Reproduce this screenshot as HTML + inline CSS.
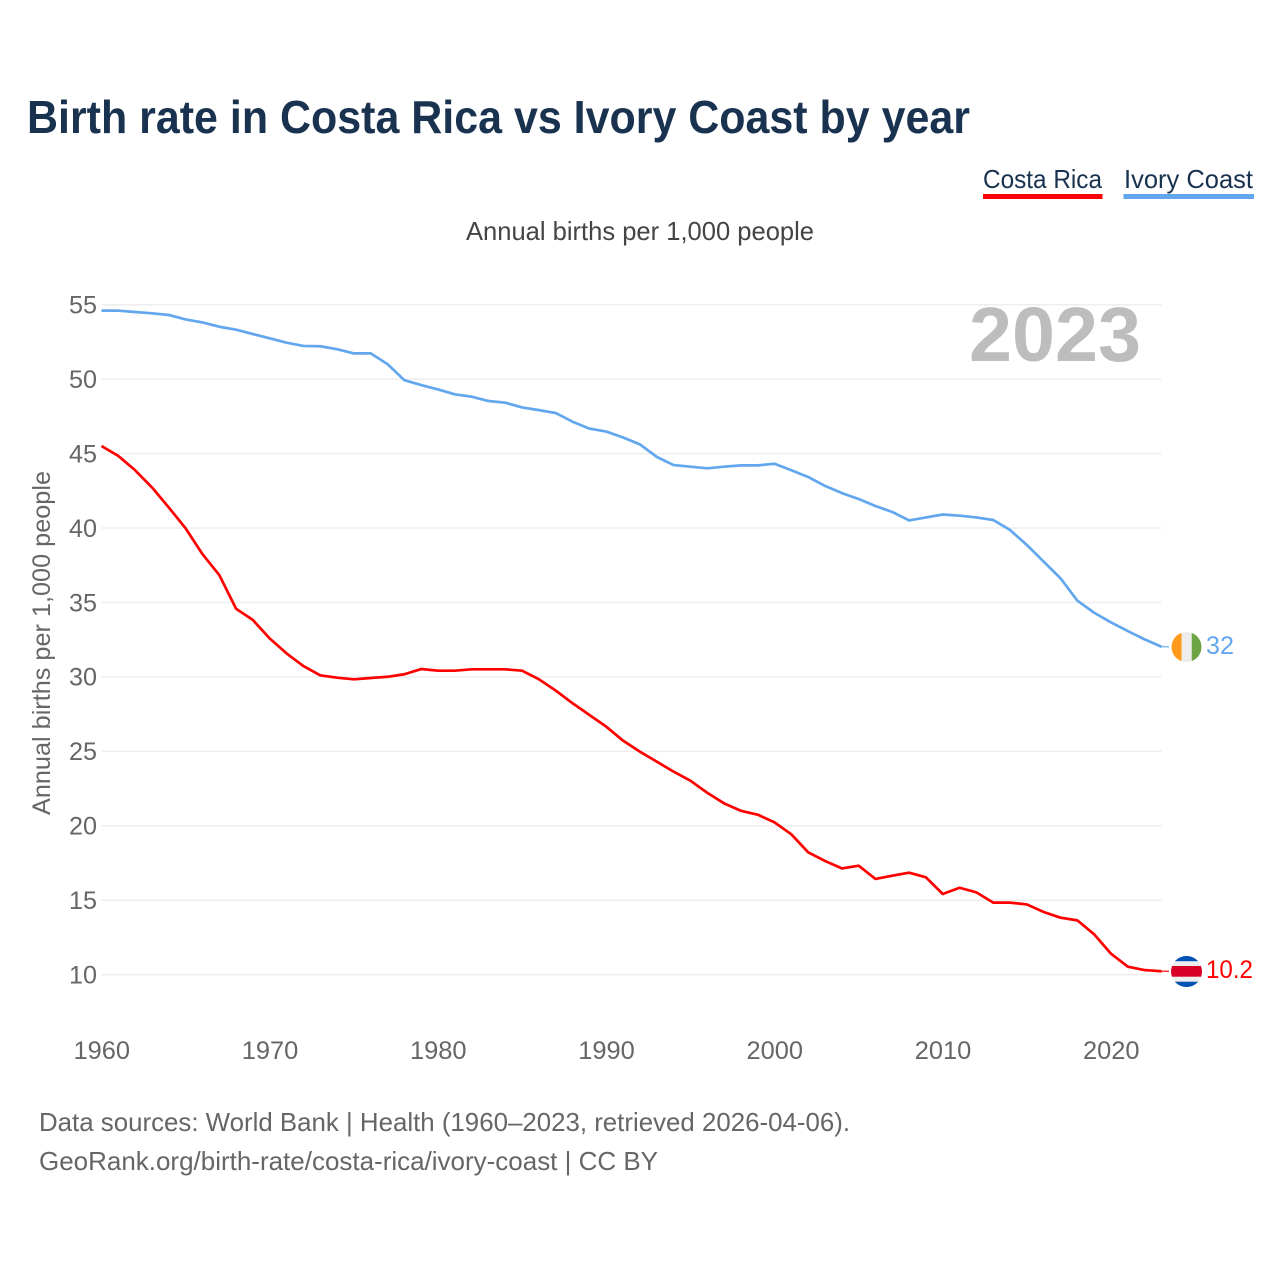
<!DOCTYPE html>
<html lang="en">
<head>
<meta charset="utf-8">
<title>Birth rate in Costa Rica vs Ivory Coast by year</title>
<style>
html,body{margin:0;padding:0;background:#fff;width:1280px;height:1280px;overflow:hidden}
svg{display:block}
text{font-family:"Liberation Sans",sans-serif}
</style>
</head>
<body>
<svg id="chart" xmlns="http://www.w3.org/2000/svg" width="1280" height="1280" viewBox="0 0 1280 1280">
  <defs>
    <clipPath id="flag-clip-ci"><circle cx="1186.500" cy="647" r="15"/></clipPath>
    <clipPath id="flag-clip-cr"><circle cx="1186.500" cy="971.500" r="15.500"/></clipPath>
  </defs>
  <rect x="0" y="0" width="1280" height="1280" fill="#fff"/>
  <text x="27" y="133" font-size="46" font-weight="700" fill="#18324f" textLength="943" lengthAdjust="spacingAndGlyphs">Birth rate in Costa Rica vs Ivory Coast by year</text>
  <g>
    <text x="983" y="188" font-size="26" fill="#18324f" textLength="119" lengthAdjust="spacingAndGlyphs">Costa Rica</text>
    <rect x="983" y="194" width="119.500" height="5" fill="#ff0000"/>
  </g>
  <g>
    <text x="1124" y="188" font-size="26" fill="#18324f" textLength="129" lengthAdjust="spacingAndGlyphs">Ivory Coast</text>
    <rect x="1123.500" y="194" width="130.500" height="5" fill="#62a7ee"/>
  </g>
  <text x="466" y="240" font-size="26" fill="#444" textLength="348" lengthAdjust="spacingAndGlyphs">Annual births per 1,000 people</text>
  <text transform="translate(50,815) rotate(-90)" x="0" y="0" font-size="25" fill="#666" textLength="344" lengthAdjust="spacingAndGlyphs">Annual births per 1,000 people</text>
  <g id="grid"></g>
  <g id="yticks"></g>
  <g id="xticks"></g>
  <text x="969" y="361" font-size="77" font-weight="700" fill="#bdbdbd" textLength="172" lengthAdjust="spacingAndGlyphs">2023</text>
  <g id="series"></g>
  <g clip-path="url(#flag-clip-ci)">
    <rect x="1171" y="632" width="10.700" height="30" fill="#ff9a1c"/>
    <rect x="1181.700" y="632" width="10" height="30" fill="#eeeeee"/>
    <rect x="1191.700" y="632" width="10" height="30" fill="#6da544"/>
  </g>
  <g clip-path="url(#flag-clip-cr)">
    <rect x="1170" y="956" width="33" height="31" fill="#eeeeee"/>
    <rect x="1170" y="956" width="33" height="5.200" fill="#0052b4"/>
    <rect x="1170" y="981.700" width="33" height="5.500" fill="#0052b4"/>
    <rect x="1170" y="966" width="33" height="10.700" fill="#d80027"/>
  </g>
  <text x="1206" y="654" font-size="25" fill="#62a7ee" textLength="28" lengthAdjust="spacingAndGlyphs">32</text>
  <text x="1206" y="978" font-size="25" fill="#ff0000" textLength="47" lengthAdjust="spacingAndGlyphs">10.2</text>
  <text x="39" y="1131" font-size="26" fill="#666" textLength="811" lengthAdjust="spacingAndGlyphs">Data sources: World Bank | Health (1960–2023, retrieved 2026-04-06).</text>
  <text x="39" y="1170" font-size="26" fill="#666" textLength="619" lengthAdjust="spacingAndGlyphs">GeoRank.org/birth-rate/costa-rica/ivory-coast | CC BY</text>
</svg>
<script>
const startYear = 1960;
const costaRica = [45.53,44.86,43.9,42.75,41.4,40.0,38.27,36.86,34.6,33.84,32.6,31.6,30.75,30.13,29.97,29.86,29.95,30.03,30.2,30.55,30.44,30.44,30.53,30.53,30.53,30.44,29.86,29.1,28.25,27.46,26.68,25.74,25.0,24.33,23.66,23.05,22.24,21.53,21.03,20.77,20.25,19.45,18.24,17.66,17.16,17.34,16.45,16.67,16.87,16.56,15.44,15.86,15.55,14.86,14.86,14.74,14.23,13.85,13.67,12.73,11.43,10.56,10.33,10.25];
const ivoryCoast = [54.62,54.62,54.53,54.44,54.33,54.03,53.83,53.54,53.34,53.05,52.76,52.47,52.25,52.23,52.03,51.75,51.75,51.03,49.95,49.62,49.33,49.0,48.84,48.55,48.44,48.12,47.94,47.74,47.16,46.7,46.5,46.1,45.64,44.8,44.25,44.14,44.03,44.14,44.23,44.23,44.34,43.9,43.45,42.85,42.37,41.97,41.5,41.1,40.53,40.73,40.93,40.85,40.73,40.56,39.89,38.88,37.76,36.64,35.14,34.33,33.68,33.1,32.54,32.05];
const yTickValues = [10,15,20,25,30,35,40,45,50,55];
const xTickValues = [1960,1970,1980,1990,2000,2010,2020];

const NS = 'http://www.w3.org/2000/svg';
function xScale(year){ return 101.5 + (year - 1960) * (1161.5 - 101.5) / 63; }
function yScale(v){ return 975 + (v - 10) * (305 - 975) / 45; }

const grid = document.getElementById('grid');
const yticks = document.getElementById('yticks');
const xticks = document.getElementById('xticks');
const seriesGroup = document.getElementById('series');

yTickValues.forEach(function(v){
  const line = document.createElementNS(NS, 'line');
  
  
  line.setAttribute('x1', 101.5);
  line.setAttribute('x2', 1161.5);
  line.setAttribute('y1', yScale(v) - 0.3);
  line.setAttribute('y2', yScale(v) - 0.3);
  line.setAttribute('stroke', '#eeeeee');
  line.setAttribute('stroke-width', 1.5);
  grid.appendChild(line);
  const t = document.createElementNS(NS, 'text');
  
  
  t.setAttribute('x', 69);
  t.setAttribute('y', yScale(v) + 8.5);
  t.setAttribute('font-size', 25);
  t.setAttribute('fill', '#666');
  t.setAttribute('textLength', 28);
  t.setAttribute('lengthAdjust', 'spacingAndGlyphs');
  t.textContent = String(v);
  yticks.appendChild(t);
});

xTickValues.forEach(function(y){
  const t = document.createElementNS(NS, 'text');
  
  
  t.setAttribute('x', xScale(y) - 28);
  t.setAttribute('y', 1059);
  t.setAttribute('font-size', 25);
  t.setAttribute('fill', '#666');
  t.setAttribute('textLength', 56.5);
  t.setAttribute('lengthAdjust', 'spacingAndGlyphs');
  t.textContent = String(y);
  xticks.appendChild(t);
});

function pathFor(values){
  return values.map(function(v, i){
    return (i ? 'L' : 'M') + xScale(startYear + i).toFixed(2) + ' ' + yScale(v).toFixed(2);
  }).join(' ');
}

const costaRicaLine = document.createElementNS(NS, 'path');


costaRicaLine.setAttribute('d', pathFor(costaRica));
costaRicaLine.setAttribute('fill', 'none');
costaRicaLine.setAttribute('stroke', '#ff0000');
costaRicaLine.setAttribute('stroke-width', 2.7);
costaRicaLine.setAttribute('stroke-linejoin', 'round');
seriesGroup.appendChild(costaRicaLine);

const ivoryCoastLine = document.createElementNS(NS, 'path');


ivoryCoastLine.setAttribute('d', pathFor(ivoryCoast));
ivoryCoastLine.setAttribute('fill', 'none');
ivoryCoastLine.setAttribute('stroke', '#62a7ee');
ivoryCoastLine.setAttribute('stroke-width', 2.7);
ivoryCoastLine.setAttribute('stroke-linejoin', 'round');
seriesGroup.appendChild(ivoryCoastLine);

const crLast = costaRica[costaRica.length - 1];
const crLeader = document.createElementNS(NS, 'line');


crLeader.setAttribute('x1', xScale(2023));
crLeader.setAttribute('x2', 1169);
crLeader.setAttribute('y1', yScale(crLast));
crLeader.setAttribute('y2', yScale(crLast));
crLeader.setAttribute('stroke', '#ff0000');
crLeader.setAttribute('stroke-width', 1.5);
crLeader.setAttribute('stroke-opacity', 0.8);
seriesGroup.appendChild(crLeader);

const ciLast = ivoryCoast[ivoryCoast.length - 1];
const ciLeader = document.createElementNS(NS, 'line');


ciLeader.setAttribute('x1', xScale(2023));
ciLeader.setAttribute('x2', 1169);
ciLeader.setAttribute('y1', yScale(ciLast));
ciLeader.setAttribute('y2', yScale(ciLast));
ciLeader.setAttribute('stroke', '#62a7ee');
ciLeader.setAttribute('stroke-width', 1.5);
ciLeader.setAttribute('stroke-opacity', 0.8);
seriesGroup.appendChild(ciLeader);
</script>
</body>
</html>
